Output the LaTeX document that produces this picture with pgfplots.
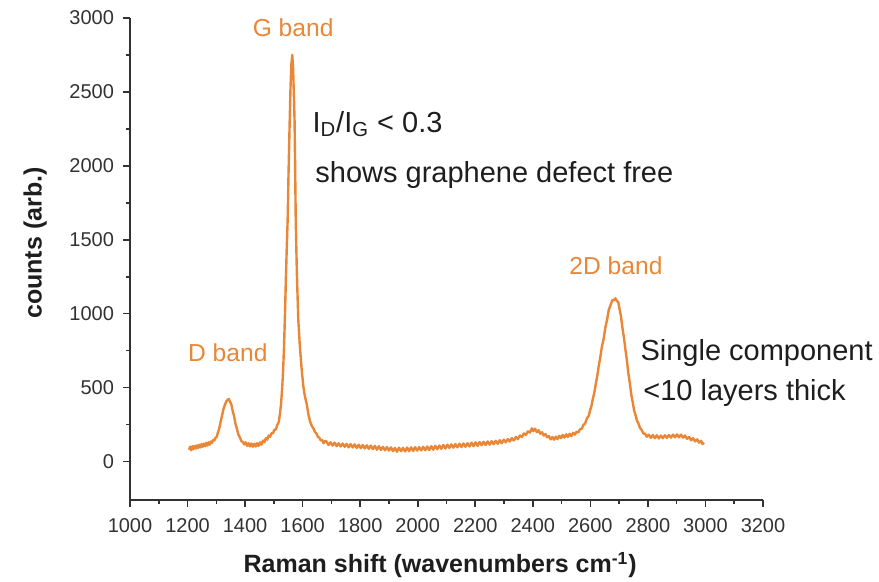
\documentclass[border=0pt]{standalone}
\usepackage{pgfplots}
\pgfplotsset{compat=1.18}
\usepackage{fontspec}
\setmainfont{Liberation Sans}
\definecolor{ramanorange}{RGB}{234,135,55}
\definecolor{axgray}{RGB}{50,50,50}
\definecolor{txtblack}{RGB}{30,30,30}
\begin{document}
\begin{tikzpicture}
\useasboundingbox (0,0) rectangle (439.5pt,291pt);
\begin{axis}[
  at={(65pt,41pt)}, anchor=south west,
  scale only axis, width=316.5pt, height=241pt,
  xmin=1000, xmax=3200, ymin=-260, ymax=3000,
  axis lines*=left,
  axis line style={axgray, line width=1pt},
  every tick/.style={axgray, line width=0.8pt},
  tick align=outside,
  major tick length=3.5pt, minor tick length=2pt,
  xtick={1000,1200,...,3200}, ytick={0,500,...,3000},
  minor x tick num=1, minor y tick num=1,
  /pgf/number format/assume math mode=true,
  /pgf/number format/1000 sep={},
  tick label style={font=\fontsize{10}{12}\selectfont, text=axgray},
  xticklabel style={yshift=-2pt},
  yticklabel style={xshift=-1pt},
  xlabel={Raman shift (wavenumbers cm\textsuperscript{-1})},
  ylabel={counts (arb.)},
  label style={font=\bfseries\fontsize{12.5}{15}\selectfont, text=txtblack},
  xlabel style={at={(axis description cs:0.49,-0.135)}, anchor=center},
  ylabel style={at={(axis description cs:-0.15,0.533)}, anchor=center, rotate=0},
  clip=false,
]
\addplot[ramanorange, line width=1.2pt, line join=round] coordinates {
(1205,80) (1209,100) (1213,76) (1217,104) (1221,84) (1225,106) (1229,88) (1233,110)
(1237,92) (1241,114) (1245,96) (1249,118) (1253,100) (1257,122) (1261,104) (1265,126)
(1269,108) (1273,130) (1277,114) (1281,136) (1285,126) (1289,146) (1293,142) (1297,160)
(1301,165) (1305,192) (1310,222) (1315,268) (1320,312) (1325,356) (1330,385) (1335,408)
(1340,418) (1343,424) (1347,408) (1352,388) (1357,342) (1362,304) (1367,252) (1372,218)
(1377,180) (1382,164) (1387,138) (1392,132) (1397,116) (1402,130) (1407,106) (1412,124)
(1417,102) (1422,122) (1427,100) (1432,120) (1437,102) (1442,124) (1447,106) (1452,130)
(1457,114) (1462,142) (1467,130) (1472,158) (1477,148) (1482,176) (1487,168) (1492,192)
(1497,192) (1502,216) (1507,216) (1512,248) (1517,268) (1521,320) (1525,390) (1529,500)
(1532,610) (1535,760) (1538,950) (1542,1250) (1545,1460) (1548,1640) (1551,1950)
(1555,2300) (1558,2540) (1561,2690) (1564,2750) (1567,2650) (1570,2450) (1572,2300)
(1574,1980) (1576,1640) (1580,1270) (1585,955) (1590,790) (1597,615) (1603,500)
(1608,440) (1614,390) (1620,320) (1626,270) (1632,240) (1638,222) (1643,200) (1648,190)
(1653,166) (1658,162) (1663,142) (1668,146) (1673,124) (1678,140)
(1683,135) (1690,112) (1697,130) (1704,108) (1711,128) (1718,104) (1725,124) (1732,102)
(1739,122) (1746,100) (1753,120) (1760,96) (1767,118) (1774,95) (1781,116) (1788,92)
(1795,114) (1802,90) (1809,112) (1816,88) (1823,110) (1830,86) (1837,108) (1844,84)
(1851,106) (1858,80) (1865,104) (1872,78) (1879,100) (1886,76) (1893,98) (1900,74)
(1907,96) (1914,70) (1921,92) (1928,66) (1935,94) (1942,70) (1949,92) (1956,68)
(1963,95) (1970,70) (1977,96) (1984,72) (1991,97) (1998,74) (2005,98) (2012,75)
(2019,100) (2026,76) (2033,102) (2040,78) (2047,104) (2054,80) (2061,106) (2068,84)
(2075,108) (2082,86) (2089,112) (2096,88) (2103,114) (2110,92) (2117,116) (2124,94)
(2131,118) (2138,96) (2145,120) (2152,98) (2159,122) (2166,100) (2173,124) (2180,102)
(2187,128) (2194,104) (2201,130) (2208,106) (2215,132) (2222,110) (2229,134) (2236,112)
(2243,136) (2250,114) (2257,138) (2264,118) (2271,140) (2278,120) (2285,144) (2292,124)
(2299,148) (2306,130) (2313,152) (2320,136) (2327,158) (2334,142) (2341,166) (2348,152)
(2355,176) (2362,166) (2369,190) (2376,180) (2383,204) (2390,196) (2397,225) (2402,205)
(2408,222) (2414,198) (2420,212) (2426,188) (2432,198) (2438,176) (2444,186) (2450,164)
(2456,172) (2462,150) (2468,166) (2474,148) (2480,168) (2486,152) (2492,174) (2498,158)
(2504,180) (2510,162) (2516,184) (2522,166) (2528,188) (2534,172) (2540,194) (2546,182)
(2552,202) (2558,196) (2564,218) (2570,222) (2576,248) (2582,258) (2588,292) (2594,308)
(2599,346) (2604,378) (2609,426) (2614,468) (2619,526) (2624,578) (2629,646) (2634,698)
(2640,776) (2646,828) (2652,906) (2658,958) (2664,1026) (2670,1058) (2676,1090)
(2682,1092) (2687,1104) (2692,1086) (2697,1078) (2702,1026) (2707,974) (2712,896)
(2717,834) (2722,756) (2727,684) (2732,596) (2737,534) (2742,456) (2747,404)
(2752,346) (2757,314) (2762,276) (2767,258) (2772,230) (2778,214) (2784,190)
(2790,188) (2796,168) (2803,182) (2810,160) (2817,180) (2824,158) (2831,178) (2838,156)
(2845,176) (2852,158) (2859,178) (2866,160) (2873,180) (2880,162) (2887,182) (2894,164)
(2901,184) (2908,164) (2915,182) (2922,162) (2929,176) (2936,154) (2943,166) (2950,144)
(2957,158) (2964,136) (2971,150) (2978,128) (2985,140) (2990,118) (2995,128)
};
\node[text=ramanorange, font=\fontsize{12.3}{14}\selectfont] at (axis cs:1567,2931) {G band};
\node[text=ramanorange, font=\fontsize{12.3}{14}\selectfont] at (axis cs:1340,733) {D band};
\node[text=ramanorange, font=\fontsize{12.3}{14}\selectfont] at (axis cs:2689,1323) {2D band};
\node[text=txtblack, font=\fontsize{14.5}{17}\selectfont, anchor=base west, inner sep=0pt] at (axis cs:1633,2225) {I\textsubscript{D}/I\textsubscript{G} < 0.3};
\node[text=txtblack, font=\fontsize{14.5}{17}\selectfont, anchor=base west, inner sep=0pt] at (axis cs:1643,1886) {shows graphene defect free};
\node[text=txtblack, font=\fontsize{14.5}{17}\selectfont, anchor=base west, inner sep=0pt] at (axis cs:2773,685) {Single component};
\node[text=txtblack, font=\fontsize{14.5}{17}\selectfont, anchor=base west, inner sep=0pt] at (axis cs:2783,414) {<10 layers thick};
\end{axis}
\end{tikzpicture}
\end{document}
